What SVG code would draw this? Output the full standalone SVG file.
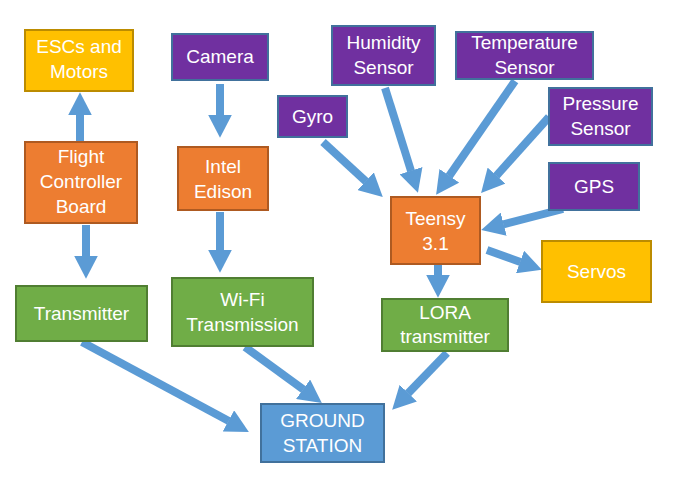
<svg xmlns="http://www.w3.org/2000/svg" width="685" height="494" viewBox="0 0 685 494">
<style>
rect{stroke-width:2}
.p{fill:#7030A0;stroke:#41719C}
.o{fill:#ED7D31;stroke:#AE5A21}
.y{fill:#FFC000;stroke:#BC8C00}
.g{fill:#70AD47;stroke:#507E32}
.b{fill:#5B9BD5;stroke:#41719C}
text{font-family:"Liberation Sans",Arial,sans-serif;font-size:19px;fill:#fff;text-anchor:middle}
#connectors line{stroke:#5B9BD5;stroke-width:8;marker-end:url(#ah)}
</style>
<defs>
<marker id="ah" viewBox="0 -1.5 2.9 3" markerWidth="2.9" markerHeight="3" refX="0.05" refY="0" orient="auto" markerUnits="strokeWidth">
<path d="M0,-1.5 L2.9,0 L0,1.5 z" fill="#5B9BD5"/>
</marker>
</defs>
<rect width="685" height="494" fill="#fff" style="stroke:none"/>
<g id="connectors">
<line x1="80" y1="142" x2="80" y2="115"/>
<line x1="220" y1="84" x2="220" y2="115"/>
<line x1="86" y1="225" x2="86" y2="256"/>
<line x1="220" y1="212" x2="220" y2="250"/>
<line x1="438" y1="264" x2="438" y2="275"/>
<line x1="323" y1="142" x2="366" y2="181.5"/>
<line x1="385" y1="88" x2="411.1" y2="171.1"/>
<line x1="515" y1="81" x2="449.1" y2="176.1"/>
<line x1="549" y1="117" x2="496.3" y2="175.9"/>
<line x1="563" y1="209" x2="503.3" y2="224.3"/>
<line x1="487" y1="250" x2="520.4" y2="262.1"/>
<line x1="82" y1="342" x2="228.8" y2="421.1"/>
<line x1="245" y1="347" x2="303.4" y2="389.5"/>
<line x1="447" y1="353" x2="408" y2="393.4"/>
</g>
<g id="escs"><rect class="y" x="25" y="30" width="108" height="61"/><text x="79" y="53">ESCs and</text><text x="79" y="78">Motors</text></g>
<g id="camera"><rect class="p" x="172" y="34" width="96" height="46"/><text x="220" y="63">Camera</text></g>
<g id="fcb"><rect class="o" x="25" y="142" width="112" height="81"/><text x="81" y="163">Flight</text><text x="81" y="188">Controller</text><text x="81" y="213">Board</text></g>
<g id="intel"><rect class="o" x="178" y="147" width="90" height="63"/><text x="223" y="173">Intel</text><text x="223" y="198">Edison</text></g>
<g id="humidity"><rect class="p" x="332" y="26" width="103" height="59"/><text x="383.5" y="49">Humidity</text><text x="383.5" y="74">Sensor</text></g>
<g id="temperature"><rect class="p" x="456" y="32" width="137" height="47"/><text x="524.5" y="49">Temperature</text><text x="524.5" y="74">Sensor</text></g>
<g id="gyro"><rect class="p" x="278" y="96" width="69" height="41"/><text x="312.5" y="123">Gyro</text></g>
<g id="pressure"><rect class="p" x="549" y="88" width="103" height="57"/><text x="600.5" y="110">Pressure</text><text x="600.5" y="135">Sensor</text></g>
<g id="gps"><rect class="p" x="549" y="163" width="90" height="47"/><text x="594" y="193">GPS</text></g>
<g id="teensy"><rect class="o" x="391" y="197" width="89" height="67"/><text x="435.5" y="225">Teensy</text><text x="435.5" y="250">3.1</text></g>
<g id="servos"><rect class="y" x="542" y="241" width="109" height="61"/><text x="596.5" y="278">Servos</text></g>
<g id="transmitter"><rect class="g" x="16" y="286" width="131" height="55"/><text x="81.5" y="320">Transmitter</text></g>
<g id="wifi"><rect class="g" x="172" y="278" width="141" height="68"/><text x="242.5" y="306">Wi-Fi</text><text x="242.5" y="331">Transmission</text></g>
<g id="lora"><rect class="g" x="382" y="299" width="126" height="52"/><text x="445" y="319">LORA</text><text x="445" y="343">transmitter</text></g>
<g id="ground"><rect class="b" x="261" y="404" width="123" height="58"/><text x="322.5" y="427">GROUND</text><text x="322.5" y="452">STATION</text></g>
</svg>
